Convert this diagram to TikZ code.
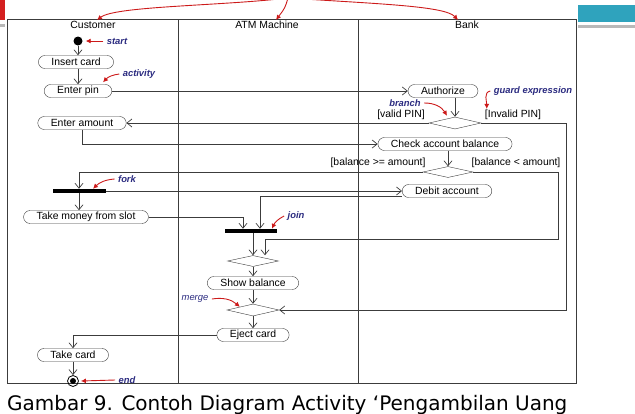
\documentclass[tikz,border=0pt]{standalone}
\usepackage{fontspec}
\setmainfont{Liberation Sans}
\newfontfamily\capfont{DejaVu Sans}
\usetikzlibrary{arrows.meta,shapes.geometric}
\definecolor{lane}{HTML}{3C3C3C}
\definecolor{notered}{HTML}{CC1A1A}
\definecolor{notetext}{HTML}{2B2B80}
\definecolor{slideteal}{HTML}{2FA3BD}
\definecolor{slidered}{HTML}{D42020}
\tikzset{
  act/.style={draw=lane, rectangle, rounded corners=6.5pt, minimum height=13pt, inner xsep=13pt, inner ysep=0pt, font=\fontsize{10.4}{12}\selectfont},
  choice/.style={draw=lane, diamond, inner sep=0pt, minimum width=52pt, minimum height=12pt},
  bar/.style={fill=black, rectangle, inner sep=0pt, minimum width=53pt, minimum height=4pt},
  flow/.style={draw=lane, line width=0.7pt, -{Straight Barb[length=5pt,width=8pt]}},
  note/.style={text=notetext, font=\fontsize{9.4}{11}\selectfont\bfseries\itshape},
  noteline/.style={notered, line width=0.9pt, -{Latex[length=5pt,width=5pt]}},
  guard/.style={font=\fontsize{10.4}{12}\selectfont, inner sep=1pt},
}

\begin{document}
\begin{tikzpicture}[x=1pt,y=-1pt]
\useasboundingbox (0,0) rectangle (635,413);
\fill[slidered] (0,0) rectangle (5,20);
\fill[gray!55] (0,24) rectangle (5,27);
\fill[slideteal] (578,5) rectangle (635,22);
\fill[gray!55] (578,25) rectangle (635,28);

\draw[lane, line width=0.8pt] (7,19) rectangle (576,383);
\draw[lane, line width=0.8pt] (178,19) -- (178,383);
\draw[lane, line width=0.8pt] (358,19) -- (358,383);

\node (cust) at (93,25) [guard] {Customer};
\node (atm) at (267,25) [guard] {ATM Machine};
\node (bank) at (467,25) [guard] {Bank};

\node (start) at (78,41) [circle, fill=black, inner sep=0pt, minimum size=9pt] {};
\node (insert) at (76,62) [act] {Insert card};
\node (enterpin) at (78,91) [act] {Enter pin};
\node (enteramount) at (82,123) [act] {Enter amount};
\node (authorize) at (443,91) [act] {Authorize};
\node (branch) at (455,123) [choice] {};
\node (check) at (445,144) [act] {Check account balance};
\node (decide) at (448,172) [choice, minimum width=50pt, minimum height=11pt] {};
\node (fork) at (79,191) [bar] {};
\node (debit) at (447,191) [act] {Debit account};
\node (takemoney) at (86,217) [act] {Take money from slot};
\node (join) at (251,231) [bar, minimum width=52pt] {};
\node (dec3) at (253,261) [choice, minimum width=51pt, minimum height=11pt] {};
\node (showbal) at (253,283) [act] {Show balance};
\node (merge) at (253,310) [choice] {};
\node (eject) at (253,335) [act] {Eject card};
\node (takecard) at (73,355) [act] {Take card};
\node (stop) at (73,381) [circle, draw=black, line width=0.8pt, inner sep=0pt, minimum size=11pt] {};
\node (stopdot) at (stop) [circle, fill=black, inner sep=0pt, minimum size=6pt] {};

\node (lvalid) at (401,115) [guard] {[valid PIN]};
\node (linvalid) at (513,115) [guard] {[Invalid PIN]};
\node (lenough) at (378,163) [guard] {[balance >= amount]};
\node (llow) at (516,163) [guard] {[balance < amount]};

\draw[flow] (start) -- (start |- insert.north);
\draw[flow] (start |- insert.south) -- (enterpin.north);
\draw[flow] (enterpin) -- (authorize);
\draw[flow] (branch |- authorize.south) -- (branch.north);
\draw[flow] (branch.west) -- (enteramount.east);
\draw[flow] (branch.east) -- ++(85,0) |- (merge.east);
\draw[flow] (enteramount.south) |- (check.west);
\draw[flow] (decide |- check.south) -- (decide.north);
\draw[flow] (decide.east) -| ++(85,67) -| ([xshift=12pt]dec3.north);
\draw[flow] (decide.west) -| (fork.north);
\draw[flow] (fork.east) -- (debit.west);
\draw[flow] (fork.south) -- (fork |- takemoney.north);
\draw[flow] (takemoney.east) -| ([xshift=-8pt]join.north);
\draw[flow] ([yshift=-5pt]debit.west) -| ([xshift=9pt]join.north);
\draw[flow] (dec3 |- join.south) -- (dec3.north);
\draw[flow] (dec3.south) -- (showbal.north);
\draw[flow] (showbal.south) -- (merge.north);
\draw[flow] (merge.south) -- (eject.north);
\draw[flow] (eject.west) -| (takecard.north);
\draw[flow] (takecard.south) -- (stop.north);

\node (lstart) at (117,41) [note] {start};
\node (lactivity) at (139,74) [note] {activity};
\node (lbranch) at (405,103) [note] {branch};
\node (lguard) at (533,91) [note] {guard expression};
\node (lfork) at (127,179) [note] {fork};
\node (ljoin) at (296,216) [note] {join};
\node (lmerge) at (195,299) [note, font=\fontsize{9.4}{11}\selectfont\itshape] {merge};
\node (lend) at (127,380) [note] {end};

\draw[noteline] (lstart.west) -- ([xshift=3pt]start.east);
\draw[noteline] (lactivity.west) to[bend right=20] ([xshift=-9pt,yshift=2pt]enterpin.north east);
\draw[noteline] (lbranch.east) to[bend left=30] ([xshift=-8pt,yshift=1pt]branch.north);
\draw[noteline] (lguard.west) to[out=190,in=90] ([xshift=3pt]linvalid.north west);
\draw[noteline] (lfork.west) to[bend right=20] ([xshift=14pt]fork.north);
\draw[noteline] (ljoin.west) to[bend right=20] ([xshift=21pt]join.north);
\draw[noteline] (lmerge.east) to[bend left=25] (merge.north west);
\draw[noteline] (lend.west) -- ([xshift=2pt]stop.east);

\coordinate (src) at (288,-2);
\draw[noteline] (src) .. controls (220,6) and (115,6) .. ([xshift=4pt]cust.north);
\draw[noteline] (src) .. controls (285,8) .. ([xshift=9pt]atm.north);
\draw[noteline] (src) .. controls (380,4) and (445,6) .. ([xshift=-9pt]bank.north);

\node (caption) at (7,410) [anchor=base west, inner sep=0pt, font=\capfont\fontsize{20}{24}\selectfont] {Gambar 9. Contoh Diagram Activity ‘Pengambilan Uang};
\end{tikzpicture}
\end{document}
